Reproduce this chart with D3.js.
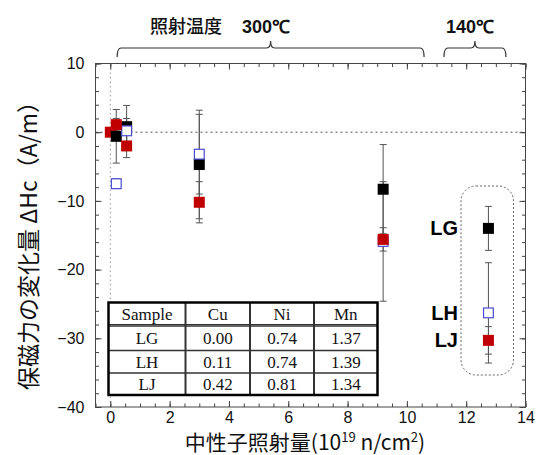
<!DOCTYPE html>
<html>
<head>
<meta charset="utf-8">
<script src="https://cdn.jsdelivr.net/npm/d3@7"></script>
<style>
body { margin: 0; background: #fff; }
svg { display: block; }
text { font-family: "Liberation Sans", Arial, sans-serif; }
.jp { font-family: "Noto Sans CJK JP", sans-serif; }
.axis path { stroke: #444; }
.axis line { stroke: #444; }
.tbl text { font-family: "Liberation Serif", "Times New Roman", serif; font-size: 17px; }
</style>
</head>
<body>
<svg id="chart" width="536" height="455"></svg>
<script>
'use strict';

// [fluence, dHc, error]
const serLG = [[0.2, -0.6, 3.9], [0.55, 0.8, 3.1], [3.0, -4.7, 7.9], [9.2, -8.3, 6.5], [12.75, -14.0, 3.2]];
const serLH = [[0.2, -7.5, 0.7], [0.55, 0.2, 1.8], [3.0, -3.2, 5.8], [9.2, -15.9, 8.7], [12.75, -26.3, 7.3]];
const serLJ0 = [[0.0, 0.0, 0]];
const serLJ = [[0.2, 1.1, 0.9], [0.55, -2.0, 1.7], [3.0, -10.2, 3.0], [9.2, -15.6, 1.7], [12.75, -30.3, 2.0]];

const xTicks = [0, 2, 4, 6, 8, 10, 12, 14];
const yTicks = [10, 0, -10, -20, -30, -40];

const tblHead = ['Sample', 'Cu', 'Ni', 'Mn'];
const tblRows = [
	['LG', '0.00', '0.74', '1.37'],
	['LH', '0.11', '0.74', '1.39'],
	['LJ', '0.42', '0.81', '1.34']
];

const legendNames = ['LG', 'LH', 'LJ'];
const legendY = [-14.0, -26.3, -30.3];

// irradiation temperature brackets: [from, to]
const brackets = [[0.23, 10.58], [11.25, 13.34]];

let svg = d3.select('#chart');
let x = d3.scaleLinear().domain([-0.5, 14]).range([95.5, 525.5]);
let y = d3.scaleLinear().domain([-40, 10]).range([407, 63.5]);

let X0 = x.range()[0], X1 = x.range()[1];
let Y0 = y.range()[0], Y1 = y.range()[1];

// reference lines
svg.append('line')
	.attr('x1', x(0)).attr('x2', x(0))
	.attr('y1', Y1).attr('y2', Y0)
	.attr('stroke', '#999').attr('stroke-dasharray', '1.5,3');
svg.append('line')
	.attr('x1', X0).attr('x2', X1)
	.attr('y1', y(0)).attr('y2', y(0))
	.attr('stroke', '#555').attr('stroke-dasharray', '2,3');

// axes: ticks inward on all four sides
let minorX = d3.range(-0.5, 14.01, 0.5);
let minorY = d3.range(-40, 10.01, 2);

function ax(gen, tr, vals, size, labels) {
	let g = svg.append('g').attr('class', 'axis').attr('transform', tr)
		.call(gen.tickValues(vals).tickSizeInner(size).tickSizeOuter(0).tickPadding(labels ? 7 : 0));
	g.select('.domain').remove();
	if (!labels) {
		g.selectAll('text').remove();
	}
	return g;
}

ax(d3.axisBottom(x), 'translate(0,' + Y0 + ')', minorX, -3.5, false);
ax(d3.axisTop(x), 'translate(0,' + Y1 + ')', minorX, -3.5, false);
ax(d3.axisLeft(y), 'translate(' + X0 + ',0)', minorY, -3.5, false);
ax(d3.axisRight(y), 'translate(' + X1 + ',0)', minorY, -3.5, false);

let bx = ax(d3.axisBottom(x).tickFormat(d3.format('d')), 'translate(0,' + Y0 + ')', xTicks, -6, true);
bx.selectAll('text').attr('font-size', 16).attr('fill', '#111').attr('y', 5);
ax(d3.axisTop(x), 'translate(0,' + Y1 + ')', xTicks, -6, false);
let ly = ax(d3.axisLeft(y).tickFormat(d3.format('d')), 'translate(' + X0 + ',0)', yTicks, -6, true);
ly.selectAll('text').attr('font-size', 16).attr('fill', '#111').attr('x', -11);
ax(d3.axisRight(y), 'translate(' + X1 + ',0)', yTicks, -6, false);

svg.append('rect')
	.attr('x', X0).attr('y', Y1)
	.attr('width', X1 - X0).attr('height', Y0 - Y1)
	.attr('fill', 'none').attr('stroke', '#444').attr('stroke-width', 1);

// table of compositions
let tbl = svg.append('g').attr('class', 'tbl');
let colX = [108.5, 185.5, 250, 314, 377.5];
let rowY = [302.5, 326, 350.5, 373, 395];
tbl.append('rect')
	.attr('x', colX[0]).attr('y', rowY[0])
	.attr('width', colX[4] - colX[0]).attr('height', rowY[4] - rowY[0])
	.attr('fill', '#fff');
for (let i = 1; i < 4; ++i) {
	tbl.append('line')
		.attr('x1', colX[i]).attr('x2', colX[i])
		.attr('y1', rowY[0]).attr('y2', rowY[4])
		.attr('stroke', '#333').attr('stroke-width', 2);
}
tbl.append('line')
	.attr('x1', colX[0]).attr('x2', colX[4])
	.attr('y1', rowY[1] - 1.5).attr('y2', rowY[1] - 1.5)
	.attr('stroke', '#333').attr('stroke-width', 1);
for (let i = 1; i < 4; ++i) {
	tbl.append('line')
		.attr('x1', colX[0]).attr('x2', colX[4])
		.attr('y1', rowY[i]).attr('y2', rowY[i])
		.attr('stroke', '#333').attr('stroke-width', 1.5);
}
tbl.append('rect')
	.attr('x', colX[0]).attr('y', rowY[0])
	.attr('width', colX[4] - colX[0]).attr('height', rowY[4] - rowY[0])
	.attr('fill', 'none').attr('stroke', '#000').attr('stroke-width', 2.5);

let allRows = [tblHead].concat(tblRows);
allRows.forEach(function(r, i) {
	r.forEach(function(c, j) {
		tbl.append('text')
			.attr('x', (colX[j] + colX[j + 1]) / 2)
			.attr('y', (rowY[i] + rowY[i + 1]) / 2 + 6)
			.attr('text-anchor', 'middle')
			.attr('fill', '#111')
			.text(c);
	});
});

// dashed frame around 140C group
svg.append('rect')
	.attr('x', 461).attr('y', 186)
	.attr('width', 52.5).attr('height', 189)
	.attr('rx', 15).attr('ry', 15)
	.attr('fill', 'none').attr('stroke', '#666').attr('stroke-width', 1)
	.attr('stroke-dasharray', '2,2');

// error bars + markers
let styles = {
	LG: {fill: '#000', stroke: '#000'},
	LH: {fill: '#fff', stroke: '#4a4ad0'},
	LJ: {fill: '#c00000', stroke: '#c00000'}
};
let layers = [['LJ', serLJ0], ['LG', serLG], ['LH', serLH], ['LJ', serLJ]];

let eb = svg.append('g');
layers.forEach(function(l) {
	l[1].forEach(function(d) {
		if (!d[2]) {
			return;
		}
		let cx = x(d[0]);
		eb.append('line')
			.attr('x1', cx).attr('x2', cx)
			.attr('y1', y(d[1] + d[2])).attr('y2', y(d[1] - d[2]))
			.attr('stroke', '#555').attr('stroke-width', 1);
		[d[1] + d[2], d[1] - d[2]].forEach(function(v) {
			eb.append('line')
				.attr('x1', cx - 3.5).attr('x2', cx + 3.5)
				.attr('y1', y(v)).attr('y2', y(v))
				.attr('stroke', '#555').attr('stroke-width', 1);
		});
	});
});

let mk = svg.append('g');
layers.forEach(function(l) {
	let s = styles[l[0]];
	let open = s.fill === '#fff';
	mk.selectAll(null).data(l[1]).enter()
		.append('rect')
		.attr('x', d => x(d[0]) - 5.5 + (open ? 0.6 : 0))
		.attr('y', d => y(d[1]) - 5.5 + (open ? 0.6 : 0))
		.attr('width', open ? 9.8 : 11)
		.attr('height', open ? 9.8 : 11)
		.attr('fill', s.fill)
		.attr('stroke', open ? s.stroke : 'none')
		.attr('stroke-width', 1.2);
});

// sample labels
legendNames.forEach(function(n, i) {
	svg.append('text')
		.attr('x', 458).attr('y', y(legendY[i]) + 7)
		.attr('text-anchor', 'end')
		.attr('font-size', 20).attr('font-weight', 'bold')
		.attr('fill', '#000')
		.text(n);
});

// irradiation temperature header
svg.append('text').attr('class', 'jp')
	.attr('x', 186).attr('y', 33)
	.attr('text-anchor', 'middle')
	.attr('font-size', 18).attr('font-weight', 500).attr('fill', '#111')
	.text('照射温度');
svg.append('text')
	.attr('x', 266).attr('y', 33)
	.attr('text-anchor', 'middle')
	.attr('font-size', 18).attr('font-weight', 'bold').attr('fill', '#111')
	.text('300℃');
svg.append('text')
	.attr('x', 470).attr('y', 33)
	.attr('text-anchor', 'middle')
	.attr('font-size', 18).attr('font-weight', 'bold').attr('fill', '#111')
	.text('140℃');

brackets.forEach(function(b) {
	let a = x(b[0]), c = x(b[1]), m = (a + c) / 2;
	let p = d3.path();
	p.moveTo(a, 57);
	p.quadraticCurveTo(a, 48, a + 4, 48);
	p.lineTo(m - 4, 48);
	p.quadraticCurveTo(m, 48, m, 41);
	p.quadraticCurveTo(m, 48, m + 4, 48);
	p.lineTo(c - 4, 48);
	p.quadraticCurveTo(c, 48, c, 57);
	svg.append('path').attr('d', p.toString())
		.attr('fill', 'none').attr('stroke', '#333').attr('stroke-width', 1.2);
});

// axis titles
let xt = svg.append('text').attr('class', 'jp')
	.attr('x', 305).attr('y', 450)
	.attr('text-anchor', 'middle')
	.attr('font-size', 21).attr('fill', '#111');
xt.append('tspan').text('中性子照射量(10');
xt.append('tspan').attr('dy', -8).attr('font-size', 13).text('19');
xt.append('tspan').attr('dy', 8).text('  n/cm');
xt.append('tspan').attr('dy', -8).attr('font-size', 13).text('2');
xt.append('tspan').attr('dy', 8).text(')');

svg.append('text').attr('class', 'jp')
	.attr('transform', 'translate(37,240) rotate(-90)')
	.attr('text-anchor', 'middle')
	.attr('font-size', 23).attr('fill', '#111')
	.text('保磁力の変化量  ΔHc（A/m）');
</script>
</body>
</html>
